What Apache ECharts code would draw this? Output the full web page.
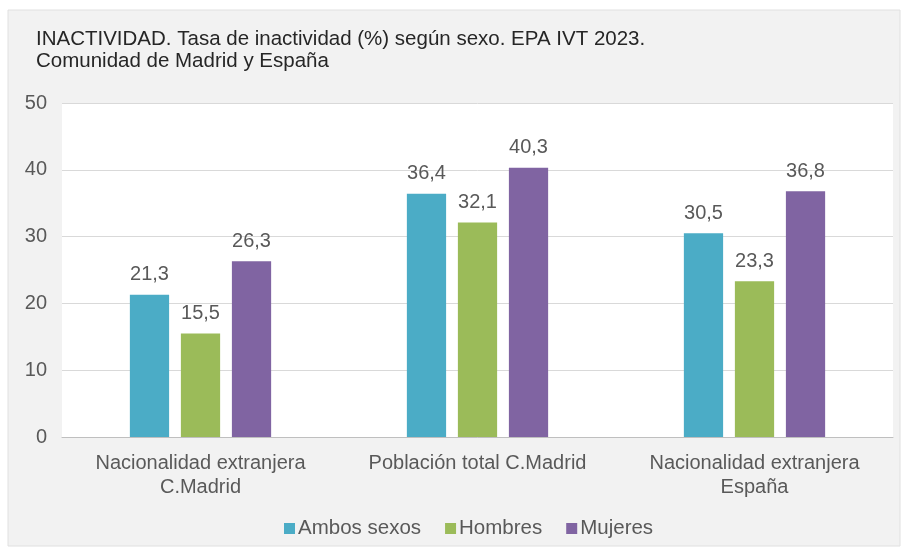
<!DOCTYPE html>
<html>
<head>
<meta charset="utf-8">
<style>
  html, body { margin: 0; padding: 0; background: #fff; }
  #chart { width: 907px; height: 554px; }
</style>
<script src="https://cdn.jsdelivr.net/npm/echarts@6/dist/echarts.min.js"></script>
</head>
<body>
<div id="chart"></div>
<script>
// datos EPA IVT 2023
var categories = ['Nacionalidad extranjera\nC.Madrid', 'Población total C.Madrid', 'Nacionalidad extranjera\nEspaña'];
var ambos = [21.3, 36.4, 30.5];
var hombres = [15.5, 32.1, 23.3];
var mujeres = [26.3, 40.3, 36.8];
var yTicks = [0, 10, 20, 30, 40, 50];

var font = 'Liberation Sans, Arial, sans-serif';

var chart = echarts.init(document.getElementById('chart'));

function serie(name, data, color) {
  return {
    name: name,
    type: 'bar',
    data: data,
    barGap: '30%',
    barCategoryGap: '49%',
    itemStyle: { color: color },
    label: {
      show: true,
      position: 'top',
      distance: 10,
      color: '#595959',
      fontFamily: font,
      fontSize: 20,
      formatter: function (p) { return p.value.toFixed(1).replace('.', ','); }
    }
  };
}

chart.setOption({
  animation: false,
  textStyle: { fontFamily: font },
  graphic: [{
    type: 'rect',
    z: -10,
    shape: { x: 8, y: 10, width: 892, height: 536 },
    style: { fill: '#f2f2f2', stroke: '#e0e0e0', lineWidth: 1 }
  }],
  title: {
    text: 'INACTIVIDAD. Tasa de inactividad (%) según sexo. EPA IVT 2023.\nComunidad de Madrid y España',
    left: 31,
    top: 23,
    textStyle: {
      fontFamily: font,
      fontSize: 20.5,
      fontWeight: 'normal',
      color: '#262626',
      lineHeight: 22.5
    }
  },
  legend: {
    bottom: 10,
    left: 279,
    itemWidth: 11,
    itemHeight: 11,
    itemGap: 24,
    icon: 'rect',
    textStyle: { fontFamily: font, fontSize: 20.5, color: '#595959', padding: [0, 0, 0, -2] },
    data: ['Ambos sexos', 'Hombres', 'Mujeres']
  },
  grid: {
    left: 62,
    right: 14,
    top: 103,
    bottom: 117,
    show: true,
    backgroundColor: '#ffffff',
    borderWidth: 0
  },
  xAxis: {
    type: 'category',
    data: categories,
    axisTick: { show: false },
    axisLine: { lineStyle: { color: '#bfbfbf' } },
    axisLabel: {
      color: '#595959',
      fontFamily: font,
      fontSize: 20,
      lineHeight: 24,
      margin: 14,
      interval: 0
    }
  },
  yAxis: {
    type: 'value',
    min: yTicks[0],
    max: yTicks[yTicks.length - 1],
    interval: 10,
    axisLine: { show: false },
    axisTick: { show: false },
    splitLine: { lineStyle: { color: '#d9d9d9' } },
    axisLabel: {
      color: '#595959',
      fontFamily: font,
      fontSize: 20,
      margin: 15
    }
  },
  series: [
    serie('Ambos sexos', ambos, '#4bacc6'),
    serie('Hombres', hombres, '#9bbb59'),
    serie('Mujeres', mujeres, '#8064a2')
  ]
});
</script>
</body>
</html>
